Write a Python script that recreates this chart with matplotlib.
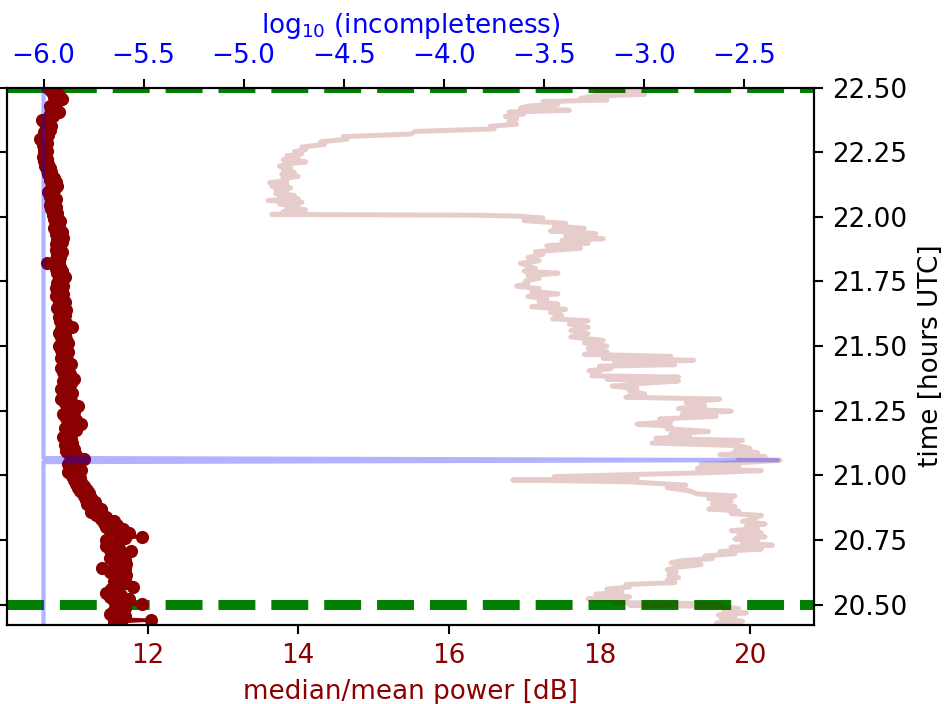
import matplotlib
matplotlib.use("Agg")
import matplotlib.pyplot as plt

# median/mean power (dark red dots), time in hours UTC
power_time = [
    20.425, 20.432, 20.440, 20.446, 20.455, 20.463, 20.472, 20.480, 20.488, 20.496,
    20.502, 20.508, 20.515, 20.522, 20.530, 20.538, 20.546, 20.553, 20.560, 20.567,
    20.574, 20.582, 20.590, 20.598, 20.606, 20.613, 20.620, 20.628, 20.636, 20.643,
    20.650, 20.658, 20.666, 20.674, 20.682, 20.690, 20.698, 20.706, 20.713, 20.720,
    20.728, 20.735, 20.742, 20.750, 20.757, 20.763, 20.770, 20.778, 20.785, 20.792,
    20.800, 20.808, 20.815, 20.822, 20.830, 20.838, 20.845, 20.852, 20.860, 20.868,
    20.875, 20.882, 20.890, 20.898, 20.906, 20.914, 20.922, 20.930, 20.938, 20.945,
    20.952, 20.960, 20.968, 20.975, 20.982, 20.990, 20.998, 21.005, 21.012, 21.020,
    21.028, 21.035, 21.043, 21.050, 21.058, 21.065, 21.072, 21.080, 21.088, 21.095,
    21.103, 21.110, 21.118, 21.126, 21.134, 21.142, 21.150, 21.158, 21.166, 21.174,
    21.182, 21.190, 21.198, 21.206, 21.214, 21.222, 21.230, 21.238, 21.246, 21.254,
    21.262, 21.270, 21.278, 21.286, 21.294, 21.302, 21.310, 21.318, 21.326, 21.334,
    21.342, 21.350, 21.358, 21.366, 21.374, 21.382, 21.390, 21.398, 21.406, 21.414,
    21.422, 21.430, 21.438, 21.446, 21.454, 21.462, 21.470, 21.478, 21.486, 21.494,
    21.502, 21.510, 21.518, 21.526, 21.534, 21.542, 21.550, 21.558, 21.566, 21.574,
    21.582, 21.590, 21.598, 21.606, 21.614, 21.622, 21.630, 21.638, 21.646, 21.654,
    21.662, 21.670, 21.678, 21.686, 21.694, 21.702, 21.710, 21.718, 21.726, 21.734,
    21.742, 21.750, 21.758, 21.766, 21.774, 21.782, 21.790, 21.798, 21.806, 21.814,
    21.822, 21.830, 21.838, 21.846, 21.854, 21.862, 21.870, 21.878, 21.886, 21.894,
    21.902, 21.910, 21.918, 21.926, 21.934, 21.942, 21.950, 21.958, 21.966, 21.974,
    21.982, 21.990, 21.998, 22.006, 22.014, 22.022, 22.030, 22.038, 22.046, 22.054,
    22.062, 22.070, 22.078, 22.086, 22.094, 22.102, 22.110, 22.118, 22.126, 22.134,
    22.142, 22.150, 22.158, 22.166, 22.174, 22.182, 22.190, 22.198, 22.206, 22.214,
    22.222, 22.230, 22.238, 22.246, 22.254, 22.262, 22.270, 22.278, 22.286, 22.294,
    22.302, 22.310, 22.318, 22.326, 22.334, 22.342, 22.350, 22.358, 22.366, 22.374,
    22.382, 22.390, 22.398, 22.406, 22.414, 22.422, 22.430, 22.438, 22.446, 22.454,
    22.462, 22.470, 22.478, 22.486, 22.494, 22.500,
]
power_db = [
    11.65, 11.55, 12.05, 11.55, 11.70, 11.50, 11.62, 11.55, 11.70, 11.60,
    11.93, 11.65, 11.55, 11.75, 11.50, 11.65, 11.45, 11.60, 11.52, 11.80,
    11.62, 11.72, 11.55, 11.68, 11.58, 11.72, 11.60, 11.50, 11.70, 11.40,
    11.60, 11.72, 11.55, 11.70, 11.50, 11.65, 11.55, 11.78, 11.50, 11.62,
    11.45, 11.60, 11.60, 11.45, 11.70, 11.92, 11.62, 11.75, 11.50, 11.68,
    11.45, 11.60, 11.42, 11.55, 11.38, 11.45, 11.32, 11.40, 11.25, 11.38,
    11.28, 11.32, 11.20, 11.30, 11.18, 11.25, 11.15, 11.22, 11.10, 11.20,
    11.08, 11.15, 11.05, 11.12, 11.02, 11.10, 11.00, 11.08, 10.95, 11.12,
    10.98, 11.05, 10.95, 11.08, 11.02, 11.15, 10.98, 11.05, 10.95, 10.92,
    11.02, 10.95, 10.90, 11.00, 10.93, 10.98, 10.88, 10.95, 10.92, 11.05,
    10.90, 10.97, 11.12, 10.95, 11.05, 10.92, 11.00, 10.88, 11.02, 10.93,
    10.98, 11.08, 10.90, 10.98, 10.85, 10.95, 10.88, 11.00, 10.92, 10.85,
    10.95, 10.90, 10.98, 10.88, 11.02, 10.92, 10.97, 10.88, 10.95, 10.85,
    10.92, 10.98, 10.90, 10.93, 10.85, 10.92, 10.88, 10.95, 10.85, 10.90,
    10.82, 10.95, 10.86, 10.92, 10.85, 10.90, 10.82, 10.90, 10.85, 10.99,
    10.86, 10.92, 10.84, 10.88, 10.82, 10.90, 10.84, 10.92, 10.80, 10.87,
    10.83, 10.90, 10.82, 10.86, 10.78, 10.88, 10.80, 10.85, 10.78, 10.88,
    10.80, 10.85, 10.82, 10.90, 10.84, 10.80, 10.86, 10.78, 10.84, 10.80,
    10.66, 10.82, 10.78, 10.84, 10.80, 10.86, 10.78, 10.82, 10.84, 10.78,
    10.86, 10.80, 10.88, 10.82, 10.78, 10.86, 10.80, 10.76, 10.82, 10.78,
    10.84, 10.76, 10.80, 10.74, 10.80, 10.76, 10.72, 10.78, 10.70, 10.76,
    10.72, 10.78, 10.70, 10.74, 10.68, 10.76, 10.72, 10.80, 10.74, 10.78,
    10.70, 10.76, 10.72, 10.68, 10.72, 10.66, 10.70, 10.64, 10.68, 10.62,
    10.66, 10.61, 10.64, 10.62, 10.66, 10.62, 10.64, 10.61, 10.66, 10.62,
    10.57, 10.63, 10.68, 10.63, 10.70, 10.65, 10.72, 10.66, 10.62, 10.60,
    10.68, 10.74, 10.70, 10.82, 10.72, 10.78, 10.70, 10.74, 10.80, 10.86,
    10.76, 10.82, 10.74, 10.72, 10.70, 10.68,
]

# second power trace (pale)
pale_time = [
    20.420, 20.428, 20.436, 20.444, 20.452, 20.460, 20.468, 20.476, 20.485, 20.493,
    20.498, 20.503, 20.508, 20.515, 20.522, 20.530, 20.540, 20.550, 20.560, 20.568,
    20.578, 20.585, 20.595, 20.605, 20.615, 20.625, 20.635, 20.645, 20.655, 20.662,
    20.670, 20.678, 20.688, 20.697, 20.705, 20.715, 20.722, 20.730, 20.738, 20.746,
    20.754, 20.762, 20.770, 20.778, 20.786, 20.794, 20.802, 20.812, 20.822, 20.832,
    20.845, 20.852, 20.862, 20.870, 20.880, 20.890, 20.900, 20.910, 20.920, 20.928,
    20.940, 20.952, 20.962, 20.975, 20.982, 20.988, 20.995, 21.002, 21.010, 21.018,
    21.026, 21.034, 21.042, 21.050, 21.058, 21.064, 21.072, 21.080, 21.088, 21.096,
    21.104, 21.115, 21.125, 21.135, 21.143, 21.150, 21.160, 21.170, 21.180, 21.190,
    21.198, 21.208, 21.218, 21.228, 21.238, 21.248, 21.258, 21.270, 21.282, 21.295,
    21.302, 21.315, 21.325, 21.335, 21.345, 21.355, 21.365, 21.372, 21.380, 21.385,
    21.395, 21.405, 21.412, 21.422, 21.428, 21.436, 21.445, 21.452, 21.460, 21.468,
    21.478, 21.490, 21.500, 21.512, 21.522, 21.535, 21.548, 21.560, 21.572, 21.585,
    21.598, 21.605, 21.618, 21.630, 21.642, 21.652, 21.662, 21.672, 21.682, 21.692,
    21.702, 21.712, 21.722, 21.732, 21.742, 21.752, 21.762, 21.772, 21.782, 21.790,
    21.800, 21.810, 21.820, 21.830, 21.842, 21.855, 21.865, 21.878, 21.888, 21.898,
    21.908, 21.915, 21.925, 21.935, 21.945, 21.955, 21.965, 21.975, 21.985, 21.995,
    22.002, 22.006, 22.009, 22.014, 22.020, 22.027, 22.035, 22.042, 22.050, 22.056,
    22.063, 22.070, 22.076, 22.083, 22.090, 22.097, 22.105, 22.112, 22.118, 22.125,
    22.132, 22.140, 22.148, 22.156, 22.164, 22.172, 22.180, 22.188, 22.196, 22.204,
    22.212, 22.220, 22.228, 22.236, 22.244, 22.252, 22.260, 22.270, 22.280, 22.290,
    22.300, 22.310, 22.320, 22.330, 22.340, 22.350, 22.358, 22.368, 22.378, 22.388,
    22.398, 22.405, 22.412, 22.420, 22.428, 22.436, 22.445, 22.452, 22.458, 22.466,
    22.474, 22.482, 22.490, 22.498, 22.510, 22.525,
]
pale_db = [
    19.75, 19.55, 19.90, 19.62, 19.80, 19.58, 19.95, 19.65, 19.85, 19.60,
    18.40, 19.60, 18.20, 18.35, 17.85, 18.40, 17.95, 18.30, 18.10, 18.40,
    18.35, 19.00, 18.90, 19.05, 18.92, 19.02, 18.90, 19.05, 19.35, 18.95,
    19.10, 19.50, 19.40, 19.80, 19.60, 20.15, 19.75, 20.30, 19.90, 20.10,
    19.80, 20.20, 19.85, 20.15, 19.75, 20.10, 19.95, 20.20, 19.90, 20.05,
    20.15, 19.75, 19.85, 19.45, 19.80, 19.50, 19.75, 19.45, 19.80, 19.30,
    19.20, 18.90, 19.15, 18.40, 16.85, 18.50, 17.40, 18.30, 19.40, 20.15,
    19.30, 19.85, 19.35, 19.95, 20.40, 19.85, 20.20, 19.60, 20.10, 19.80,
    20.00, 19.85, 18.70, 19.90, 18.75, 19.20, 18.95, 19.45, 18.90, 18.95,
    18.50, 18.95, 18.80, 19.55, 19.10, 19.75, 19.05, 19.40, 19.15, 19.60,
    18.35, 18.60, 18.40, 18.50, 18.17, 18.55, 19.05, 18.10, 19.05, 17.90,
    18.00, 17.86, 18.15, 18.00, 19.00, 18.20, 19.25, 18.05, 18.95, 17.80,
    18.10, 17.85, 18.10, 17.80, 18.05, 17.62, 17.85, 17.62, 17.85, 17.60,
    17.85, 17.38, 17.50, 17.35, 17.55, 17.10, 17.45, 17.20, 17.30, 17.05,
    17.45, 17.10, 17.20, 16.90, 17.05, 17.02, 17.20, 17.05, 17.45, 17.00,
    17.15, 17.05, 16.95, 17.20, 17.05, 17.25, 17.15, 17.75, 17.30, 17.85,
    17.50, 18.05, 17.55, 17.95, 17.35, 17.80, 17.40, 17.55, 17.00, 17.25,
    16.95, 16.40, 13.65, 14.05, 13.80, 14.10, 13.85, 14.00, 13.75, 14.05,
    13.60, 14.00, 13.75, 13.95, 13.70, 13.85, 13.70, 13.90, 13.65, 13.85,
    13.62, 13.85, 13.80, 14.00, 13.78, 13.95, 13.80, 13.90, 13.75, 13.85,
    14.10, 13.80, 14.00, 13.85, 14.05, 13.95, 14.10, 14.05, 14.35, 14.30,
    14.65, 14.60, 15.50, 15.55, 16.60, 16.55, 16.90, 16.80, 16.90, 16.75,
    17.00, 16.80, 17.60, 16.95, 17.05, 17.45, 17.25, 18.10, 17.75, 17.90,
    18.60, 17.95, 18.55, 18.10, 18.20, 17.95,
]

# log10 incompleteness (top axis)
inc_time = [20.42, 21.051, 21.059, 21.067, 22.50]
inc_log = [-6.0, -6.0, -2.33, -6.0, -6.0]

# observation window edges
window_edges = [20.5, 22.5]

DPI = 189
fig = plt.figure(figsize=(948 / DPI, 704 / DPI), dpi=DPI)
ax = fig.add_axes([0.0079, 0.1129, 0.8508, 0.7628])

for t in window_edges:
    ax.axhline(t, color='green', ls='--', lw=3.8)

ax.plot(pale_db, pale_time, color='darkred', alpha=0.2, lw=1.9)
ax.plot(power_db, power_time, 'o-', color='darkred', ms=4, lw=1.2)

ax.set_xlim(10.14, 20.85)
ax.set_ylim(20.423, 22.5)
ax.set_xticks([12, 14, 16, 18, 20])
ax.set_yticks([20.5, 20.75, 21.0, 21.25, 21.5, 21.75, 22.0, 22.25, 22.5])
ax.tick_params(axis='y', left=True, right=True, labelleft=False, labelright=True)
ax.yaxis.set_label_position('right')
ax.set_ylabel('time [hours UTC]')
ax.set_xlabel('median/mean power [dB]', color='darkred')
ax.tick_params(axis='x', labelcolor='darkred')

ax2 = ax.twiny()
ax2.plot(inc_log, inc_time, color='blue', alpha=0.3, lw=1.6)
ax2.set_xlim(-6.18, -2.15)
ax2.set_xticks([-6.0, -5.5, -5.0, -4.5, -4.0, -3.5, -3.0, -2.5])
ax2.set_xlabel(r'log$_{10}$ (incompleteness)', color='blue')
ax2.tick_params(axis='x', labelcolor='blue')

fig.savefig('out.png', dpi=DPI)
